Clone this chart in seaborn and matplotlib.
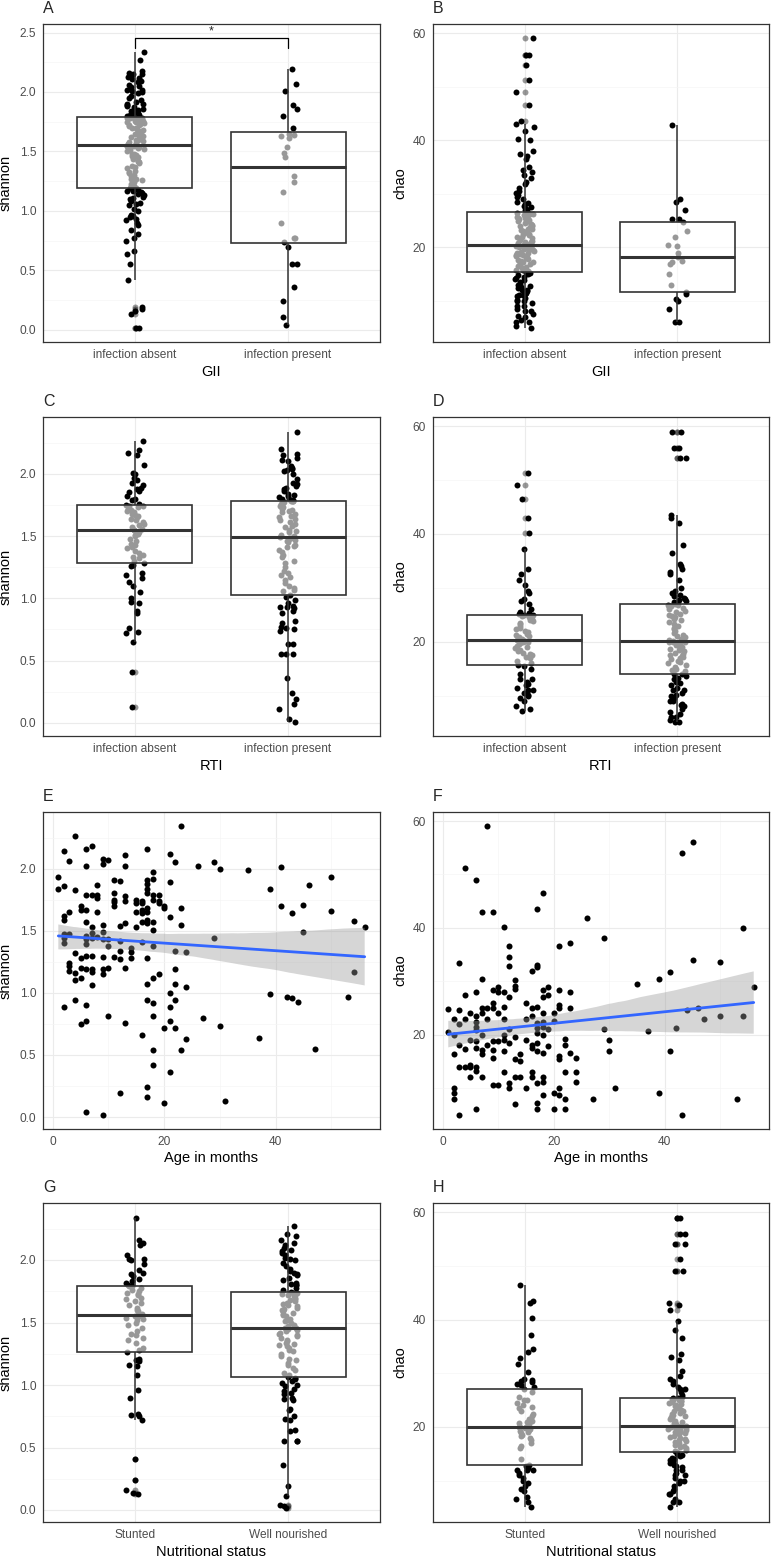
import numpy as np
import pandas as pd
import matplotlib
matplotlib.use("Agg")
import matplotlib.pyplot as plt
from matplotlib.ticker import MultipleLocator
import seaborn as sns

sns.set_style("white")
plt.rcParams["font.family"] = ["Liberation Sans", "DejaVu Sans"]

# ---------------- data ----------------
gii_levels = ["infection absent", "infection present"]
rti_levels = ["infection absent", "infection present"]
nut_levels = ["Stunted", "Well nourished"]

# A: shannon by GII
shannon_gii_absent = [
    0.02, 0.02, 0.13, 0.16, 0.18, 0.19, 0.42, 0.55, 0.64, 0.66,
    0.75, 0.77, 0.81, 0.84, 0.88, 0.90, 0.92, 0.93, 0.95, 0.96,
    0.97, 1.00, 1.02, 1.05, 1.06, 1.07, 1.08, 1.10, 1.11, 1.12,
    1.13, 1.14, 1.15, 1.16, 1.17, 1.17, 1.18, 1.19, 1.19,
    1.195,
    1.20, 1.21, 1.21, 1.23, 1.24, 1.26, 1.27, 1.27, 1.29, 1.30,
    1.32, 1.33, 1.34, 1.36, 1.37, 1.38, 1.40, 1.41, 1.42, 1.42,
    1.44, 1.45, 1.46, 1.47, 1.48, 1.48, 1.50, 1.51, 1.52, 1.53,
    1.53, 1.54, 1.54, 1.55, 1.55, 1.55, 1.55, 1.55,
    1.551,
    1.56, 1.56, 1.57, 1.58, 1.59, 1.60, 1.60, 1.61, 1.62, 1.63,
    1.64, 1.64, 1.65, 1.66, 1.67, 1.67, 1.68, 1.69, 1.70, 1.70,
    1.71, 1.72, 1.72, 1.73, 1.74, 1.74, 1.75, 1.75, 1.76, 1.76,
    1.77, 1.77, 1.78, 1.78, 1.78, 1.78, 1.785, 1.785,
    1.789,
    1.80, 1.80, 1.81, 1.81, 1.82, 1.83, 1.84, 1.85, 1.86, 1.87,
    1.88, 1.89, 1.90, 1.90, 1.92, 1.93, 1.95, 1.97, 1.99, 2.00,
    2.01, 2.02, 2.02, 2.04, 2.05, 2.06, 2.08, 2.09, 2.10, 2.11,
    2.12, 2.13, 2.14, 2.15, 2.15, 2.16, 2.18, 2.27, 2.34,
]
shannon_gii_present = [
    0.04, 0.11, 0.24, 0.36, 0.55, 0.55, 0.70, 0.74, 0.77, 0.77,
    0.90, 1.16, 1.24, 1.29, 1.45, 1.49, 1.54, 1.61, 1.63, 1.64,
    1.65, 1.70, 1.80, 1.86, 1.89, 2.01, 2.07, 2.19,
]

# B: chao by GII
chao_gii_absent = [
    5.0, 5.2, 6.0, 6.0, 6.5, 7.0, 7.2, 7.5, 8.0, 8.0,
    8.5, 9.0, 9.0, 9.5, 10.0, 10.0, 10.2, 10.5, 10.8, 11.0,
    11.0, 11.2, 11.5, 11.8, 12.0, 12.0, 12.3, 12.5, 12.8, 13.0,
    13.2, 13.5, 13.8, 14.0, 14.3, 14.5, 14.8, 15.0, 15.2,
    15.4,
    15.5, 15.7, 15.8, 16.0, 16.2, 16.3, 16.5, 16.7, 16.8, 17.0,
    17.2, 17.3, 17.5, 17.7, 17.8, 18.0, 18.2, 18.3, 18.5, 18.6,
    18.8, 19.0, 19.0, 19.2, 19.3, 19.5, 19.6, 19.7, 19.8, 20.0,
    20.0, 20.1, 20.2, 20.3, 20.3, 20.4, 20.4, 20.5,
    20.5,
    20.6, 20.8, 21.0, 21.0, 21.2, 21.4, 21.5, 21.7, 21.9, 22.0,
    22.2, 22.4, 22.5, 22.7, 22.9, 23.0, 23.2, 23.4, 23.5, 23.7,
    23.9, 24.0, 24.2, 24.4, 24.5, 24.7, 24.9, 25.0, 25.2, 25.4,
    25.5, 25.7, 25.8, 26.0, 26.1, 26.2, 26.3, 26.4,
    26.5,
    26.7, 26.9, 27.0, 27.2, 27.5, 27.7, 28.0, 28.2, 28.5, 29.0,
    29.3, 29.7, 30.2, 30.5, 31.0, 31.8, 32.2, 33.0, 33.5, 34.0,
    34.5, 35.0, 36.5, 37.0, 37.5, 38.0, 40.0, 40.2, 41.8, 42.5,
    43.0, 43.5, 46.5, 49.0, 51.3, 54.0, 56.0, 56.0, 59.0,
]
chao_gii_present = [
    6.0, 6.0, 8.5, 9.9, 10.4, 11.2, 11.7, 12.9, 15.0, 16.9,
    17.2, 17.4, 18.2, 19.0, 20.2, 20.5, 22.0, 23.0, 24.7, 25.2,
    25.2, 27.0, 28.5, 29.0, 42.9,
]

# C: shannon by RTI
shannon_rti_absent = [
    0.13, 0.41, 0.65, 0.72, 0.73, 0.76, 0.88, 0.90, 0.96, 0.97,
    1.00, 1.05, 1.10, 1.13, 1.16, 1.19, 1.20, 1.26, 1.27,
    1.282,
    1.30, 1.32, 1.33, 1.35, 1.36, 1.38, 1.40, 1.41, 1.43, 1.44,
    1.46, 1.48, 1.50, 1.51, 1.52, 1.53, 1.54, 1.545,
    1.549,
    1.56, 1.57, 1.59, 1.60, 1.61, 1.63, 1.64, 1.65, 1.66, 1.67,
    1.68, 1.69, 1.70, 1.71, 1.72, 1.73, 1.74, 1.745,
    1.746,
    1.76, 1.79, 1.80, 1.82, 1.85, 1.86, 1.88, 1.89, 1.91, 1.93,
    1.95, 1.97, 2.00, 2.01, 2.07, 2.15, 2.17, 2.19, 2.26,
]
shannon_rti_present = [
    0.01, 0.03, 0.11, 0.15, 0.19, 0.24, 0.36, 0.55, 0.55, 0.55,
    0.63, 0.63, 0.74, 0.75, 0.76, 0.77, 0.80, 0.82, 0.88, 0.90,
    0.92, 0.93, 0.93, 0.94, 0.96, 0.99, 1.01,
    1.023,
    1.06, 1.07, 1.08, 1.10, 1.12, 1.15, 1.17, 1.19, 1.20, 1.22,
    1.25, 1.28, 1.30, 1.33, 1.35, 1.37, 1.39, 1.41, 1.42, 1.43,
    1.45, 1.46, 1.47, 1.48, 1.485, 1.488,
    1.490,
    1.50, 1.51, 1.53, 1.54, 1.55, 1.57, 1.58, 1.60, 1.61, 1.63,
    1.64, 1.65, 1.66, 1.68, 1.69, 1.70, 1.71, 1.72, 1.73, 1.74,
    1.75, 1.76, 1.77, 1.78, 1.78, 1.783,
    1.784,
    1.79, 1.80, 1.80, 1.81, 1.82, 1.83, 1.84, 1.86, 1.88, 1.89,
    1.90, 1.92, 1.93, 1.96, 2.00, 2.02, 2.03, 2.04, 2.05, 2.06,
    2.10, 2.11, 2.13, 2.15, 2.16, 2.20, 2.34,
]

# D: chao by RTI
chao_rti_absent = [
    7.1, 7.5, 8.0, 9.0, 9.5, 10.0, 10.2, 10.5, 11.0, 11.0,
    11.5, 12.0, 12.2, 12.5, 13.0, 13.0, 14.0, 15.0, 15.5,
    15.6,
    16.0, 16.5, 17.0, 17.2, 17.5, 17.8, 18.0, 18.3, 18.5, 18.8,
    19.0, 19.2, 19.5, 19.7, 19.9, 20.0, 20.1, 20.2,
    20.3,
    20.5, 20.8, 21.0, 21.3, 21.5, 21.8, 22.0, 22.3, 22.6, 23.0,
    23.2, 23.5, 23.8, 24.0, 24.3, 24.5, 24.7, 24.9,
    25.0,
    25.2, 25.3, 25.6, 26.0, 27.0, 27.5, 28.0, 29.0, 29.5, 30.5,
    31.5, 32.5, 33.5, 37.2, 40.2, 43.0, 46.5, 49.0, 51.3,
]
chao_rti_present = [
    5.2, 5.2, 5.5, 6.0, 6.0, 6.5, 7.0, 7.5, 8.0, 8.2,
    8.5, 9.0, 9.0, 9.5, 10.0, 10.2, 10.5, 11.0, 11.0, 11.5,
    12.0, 12.3, 12.5, 13.0, 13.3, 13.6, 14.0,
    14.1,
    14.5, 14.8, 15.0, 15.3, 15.6, 16.0, 16.2, 16.5, 16.8, 17.0,
    17.2, 17.4, 17.6, 17.8, 18.0, 18.3, 18.5, 18.7, 19.0, 19.2,
    19.4, 19.6, 19.8, 19.9, 20.0, 20.0,
    20.1,
    20.3, 20.5, 20.8, 21.0, 21.3, 21.6, 22.0, 22.3, 22.6, 23.0,
    23.3, 23.6, 24.0, 24.2, 24.5, 24.8, 25.0, 25.2, 25.5, 25.7,
    26.0, 26.2, 26.4, 26.6, 26.8, 26.9,
    27.0,
    27.3, 27.6, 27.8, 28.0, 28.2, 28.5, 28.7, 29.0, 29.5, 30.0,
    31.5, 32.5, 33.0, 33.5, 34.0, 34.5, 36.5, 38.0, 42.0, 43.0,
    43.5, 54.0, 54.0, 56.0, 56.0, 59.0, 59.0,
]

# E: shannon vs age (months)
age_e = [
    1, 1,
    2, 2, 2, 2, 2, 2, 2, 2,
    3, 3, 3, 3, 3, 3,
    4, 4, 4, 4, 4, 4,
    5, 5, 5, 5, 5, 5,
    6, 6, 6, 6, 6, 6, 6, 6, 6, 6, 6, 6, 6,
    7, 7, 7, 7, 7, 7, 7, 7, 7,
    8, 8, 8, 8, 8,
    9, 9, 9, 9, 9, 9, 9, 9, 9,
    10, 10, 10, 10, 10,
    11, 11, 11, 11, 11, 11,
    12, 12, 12, 12, 12, 12,
    13, 13, 13, 13, 13, 13, 13,
    14, 14, 14,
    15, 15, 15, 15,
    16, 16, 16, 16, 16, 16, 16,
    17, 17, 17, 17, 17, 17, 17, 17, 17, 17, 17, 17, 17, 17,
    18, 18, 18, 18, 18, 18, 18, 18, 18, 18, 18, 18,
    19, 19, 19, 19,
    20, 20, 20, 20,
    21, 21, 21, 21, 21, 21, 21,
    22, 22, 22, 22, 22, 22,
    23, 23, 23, 23,
    24, 24, 24,
    26, 27, 29, 29, 30, 30, 31, 35, 37, 39, 39, 41, 41, 42,
    43, 43, 44, 45, 45, 46, 47, 50, 50, 53, 54, 54, 56,
]
shannon_e = [
    1.93, 1.84,
    2.14, 1.86, 1.62, 1.59, 1.47, 1.44, 1.40, 0.885,
    2.06, 1.65, 1.47, 1.24, 1.22, 1.18,
    2.26, 1.83, 1.32, 1.16, 1.10, 0.94,
    1.70, 1.67, 1.28, 1.20, 1.12, 0.75,
    2.16, 2.02, 1.79, 1.67, 1.57, 1.46, 1.43, 1.39, 1.30, 1.19, 0.90, 0.77, 0.04,
    2.18, 1.79, 1.53, 1.48, 1.44, 1.30, 1.19, 1.17, 1.06,
    1.87, 1.79, 1.76, 1.65, 1.45,
    2.08, 2.04, 1.55, 1.49, 1.43, 1.29, 1.19, 1.15, 0.02,
    2.07, 1.43, 1.38, 1.20, 0.81,
    1.91, 1.80, 1.75, 1.73, 1.70, 1.29,
    1.90, 1.54, 1.42, 1.34, 1.27, 0.19,
    2.11, 2.02, 1.78, 1.74, 1.56, 1.20, 0.76,
    1.36, 1.33, 1.28,
    1.75, 1.72, 1.65, 1.53,
    1.74, 1.72, 1.67, 1.64, 1.57, 1.41, 0.66,
    2.16, 1.91, 1.88, 1.84, 1.80, 1.68, 1.65, 1.59, 1.56, 1.28, 1.07, 0.94, 0.24, 0.16,
    1.97, 1.92, 1.79, 1.75, 1.57, 1.51, 1.38, 1.12, 0.92, 0.81, 0.54, 0.42,
    1.79, 1.74, 1.72, 1.15,
    1.70, 1.68, 0.72, 0.11,
    2.12, 1.89, 1.61, 1.00, 0.89, 0.77, 0.36,
    2.05, 1.34, 1.19, 1.07, 0.94, 0.72,
    2.34, 1.68, 1.55, 0.54,
    1.33, 1.05, 0.63,
    2.02, 0.80, 2.05, 1.44, 2.00, 0.73, 0.13, 1.99, 0.64, 1.84, 0.99, 2.01, 1.70, 0.97,
    1.64, 0.96, 0.93, 1.71, 1.49, 1.87, 0.55, 1.93, 1.66, 0.97, 1.58, 1.17, 1.53,
]

# F: chao vs age (months)
age_f = [
    1, 1,
    2, 2, 2, 2, 2, 2,
    3, 3, 3, 3, 3, 3,
    4, 4, 4, 4, 4,
    5, 5, 5, 5, 5,
    6, 6, 6, 6, 6, 6, 6, 6, 6, 6, 6,
    7, 7, 7, 7, 7, 7, 7, 7,
    8, 8, 8, 8,
    9, 9, 9, 9, 9, 9, 9, 9,
    10, 10, 10, 10, 10,
    11, 11, 11, 11, 11, 11, 11, 11,
    12, 12, 12, 12, 12, 12, 12, 12,
    13, 13, 13, 13, 13, 13, 13,
    14, 14, 14,
    15, 15, 15, 15,
    16, 16, 16, 16, 16, 16, 16,
    17, 17, 17, 17, 17, 17, 17, 17, 17, 17, 17, 17,
    18, 18, 18, 18, 18, 18, 18, 18, 18, 18, 18,
    19, 19, 19, 19,
    20, 20, 20, 20,
    21, 21, 21, 21, 21, 21, 21, 21,
    22, 22, 22, 22, 22,
    23, 23, 23, 23,
    24, 24, 24,
    26, 27, 29, 29, 30, 30, 31, 35, 37, 39, 39, 41, 41, 42,
    43, 43, 44, 45, 45, 46, 47, 50, 50, 53, 54, 54, 56,
]
chao_f = [
    24.7, 20.5,
    23.0, 19.9, 16.4, 10.0, 9.1, 8.0,
    33.4, 24.6, 22.0, 18.0, 14.0, 5.0,
    51.3, 27.4, 23.0, 17.3, 14.0,
    24.0, 19.0, 14.3, 13.9, 12.0,
    49.0, 28.0, 23.4, 22.4, 21.5, 20.9, 18.7, 17.5, 14.0, 13.1, 6.0,
    42.9, 30.5, 25.0, 24.0, 19.9, 17.1, 16.4, 12.0,
    59.0, 25.0, 23.0, 18.0,
    43.0, 28.4, 26.0, 25.0, 18.7, 17.1, 15.6, 10.5,
    28.9, 27.9, 24.0, 18.7, 10.5,
    40.2, 28.0, 25.2, 23.0, 19.9, 19.0, 17.0, 13.0,
    36.5, 34.5, 32.8, 27.0, 21.0, 18.5, 10.9, 10.0,
    30.3, 29.1, 28.6, 19.5, 15.4, 12.0, 7.0,
    16.4, 15.0, 12.0,
    26.0, 23.0, 19.0, 10.0,
    32.0, 25.0, 23.4, 18.0, 17.5, 13.0, 12.0,
    43.5, 33.0, 32.7, 25.2, 22.1, 21.2, 20.2, 18.4, 17.0, 10.9, 7.1, 6.0,
    46.5, 28.3, 27.1, 24.0, 22.4, 21.5, 19.9, 16.5, 12.0, 11.2, 8.6,
    28.9, 27.4, 21.0, 17.8,
    24.0, 22.6, 9.1, 6.0,
    36.5, 28.4, 25.5, 25.0, 16.0, 15.4, 10.0, 8.6,
    19.2, 18.1, 13.0, 8.0, 6.0,
    37.2, 28.0, 25.0, 16.5,
    15.6, 13.0, 11.1,
    41.8, 8.0, 38.0, 21.0, 19.0, 17.0, 10.0, 29.4, 20.6, 30.4, 9.1, 31.7, 17.0, 21.2,
    54.0, 5.0, 24.6, 56.0, 34.0, 25.0, 23.0, 33.5, 23.5, 8.0, 40.0, 23.5, 28.9,
]

# G: shannon by nutritional status
shannon_stunted = [
    0.13, 0.14, 0.16, 0.24, 0.41, 0.72, 0.75, 0.76, 0.77, 0.90,
    0.96, 1.08, 1.15, 1.16, 1.19, 1.20, 1.21,
    1.266,
    1.28, 1.30, 1.34, 1.36, 1.38, 1.40, 1.41, 1.43, 1.46, 1.48,
    1.50, 1.52, 1.53, 1.54, 1.55, 1.555,
    1.559,
    1.57, 1.59, 1.60, 1.62, 1.64, 1.66, 1.67, 1.69, 1.70, 1.72,
    1.73, 1.74, 1.75, 1.76, 1.78, 1.79,
    1.792,
    1.80, 1.82, 1.83, 1.85, 1.87, 1.89, 1.90, 1.92, 1.97, 2.00,
    2.01, 2.01, 2.04, 2.12, 2.14, 2.16, 2.34,
]
shannon_well = [
    0.02, 0.03, 0.04, 0.11, 0.19, 0.36, 0.55, 0.55, 0.55, 0.63,
    0.64, 0.72, 0.73, 0.75, 0.80, 0.81, 0.88, 0.89, 0.90, 0.93,
    0.94, 0.95, 0.97, 0.99, 1.00, 1.02, 1.03, 1.05, 1.06,
    1.065,
    1.08, 1.10, 1.12, 1.14, 1.16, 1.18, 1.20, 1.21, 1.23, 1.25,
    1.27, 1.28, 1.30, 1.31, 1.32, 1.33, 1.34, 1.35, 1.36, 1.38,
    1.39, 1.40, 1.41, 1.42, 1.43, 1.44, 1.45, 1.455,
    1.458,
    1.47, 1.48, 1.50, 1.51, 1.52, 1.53, 1.55, 1.56, 1.57, 1.58,
    1.59, 1.60, 1.61, 1.62, 1.63, 1.64, 1.65, 1.66, 1.67, 1.68,
    1.69, 1.70, 1.71, 1.72, 1.72, 1.73, 1.735, 1.74,
    1.741,
    1.76, 1.78, 1.80, 1.80, 1.81, 1.82, 1.84, 1.86, 1.88, 1.89,
    1.90, 1.91, 1.93, 1.95, 1.98, 2.00, 2.01, 2.02, 2.04, 2.06,
    2.07, 2.08, 2.10, 2.12, 2.14, 2.16, 2.19, 2.21, 2.27,
]

# H: chao by nutritional status
chao_stunted = [
    5.0, 6.0, 6.5, 7.0, 8.0, 8.5, 9.0, 9.5, 10.0, 10.5,
    11.0, 11.5, 12.0, 12.0, 12.0, 12.3, 12.7,
    13.0,
    14.0, 16.0, 16.5, 17.0, 17.5, 18.0, 18.3, 18.5, 18.8, 19.0,
    19.3, 19.5, 19.7, 19.8, 19.9, 20.0,
    20.0,
    20.5, 20.8, 21.0, 21.2, 21.5, 22.0, 22.5, 23.0, 23.5, 23.8,
    24.0, 24.5, 25.0, 25.0, 25.5, 26.5,
    27.0,
    27.5, 27.8, 28.0, 28.3, 28.6, 28.8, 29.0, 30.3, 31.7, 32.8,
    34.0, 34.5, 37.2, 40.2, 43.0, 43.5, 46.5,
]
chao_well = [
    5.0, 6.0, 6.0, 6.5, 7.5, 7.5, 8.0, 8.5, 9.0, 9.5,
    10.0, 10.0, 10.5, 11.0, 11.0, 11.5, 12.0, 12.0, 12.5, 12.8,
    13.0, 13.2, 13.5, 13.8, 14.0, 14.3, 14.5, 14.8, 15.0,
    15.27,
    15.5, 15.8, 16.0, 16.2, 16.5, 16.7, 17.0, 17.2, 17.4, 17.6,
    17.8, 18.0, 18.2, 18.4, 18.6, 18.8, 19.0, 19.1, 19.3, 19.4,
    19.5, 19.6, 19.7, 19.8, 19.9, 20.0, 20.1, 20.2,
    20.25,
    20.4, 20.5, 20.8, 21.0, 21.1, 21.4, 21.7, 21.8, 22.0, 22.3,
    22.5, 22.6, 22.9, 23.0, 23.1, 23.5, 23.6, 23.9, 24.0, 24.2,
    24.5, 24.6, 24.8, 24.9, 25.0, 25.1, 25.2, 25.3,
    25.35,
    25.6, 26.0, 26.5, 27.0, 27.0, 27.5, 28.0, 28.5, 29.0, 29.5,
    30.5, 32.5, 33.0, 33.5, 36.5, 38.0, 39.8, 41.8, 42.8, 43.0,
    49.0, 49.0, 51.3, 54.0, 54.0, 56.0, 56.0, 59.0, 59.0,
]

# significance bracket between the GII groups in panel A
sig_y = 2.45
sig_label = "*"

# ---------------- layout ----------------
W, H = 776, 1556
fig = plt.figure(figsize=(W / 100, H / 100), dpi=100)
fig.patch.set_facecolor("white")

col_left = [43, 433]
col_width = [337, 336]
row_top = [24, 417, 812, 1203]
row_bottom = [342, 736, 1129, 1522]

np.random.seed(3)


def make_ax(r, c):
    return fig.add_axes([col_left[c] / W, 1 - row_bottom[r] / H,
                         col_width[c] / W, (row_bottom[r] - row_top[r]) / H])


def pad_lim(lo, hi, f=0.05):
    span = hi - lo
    return lo - f * span, hi + f * span


def box_panel(ax, levels, groups):
    df = pd.DataFrame({
        "group": np.repeat(levels, [len(g) for g in groups]),
        "value": np.concatenate(groups),
    })
    sns.stripplot(data=df, x="group", y="value", order=levels, jitter=0.06,
                  color="black", size=4.3, linewidth=0, ax=ax)
    n_lines = len(ax.lines)
    sns.boxplot(data=df, x="group", y="value", order=levels, width=0.75,
                color="white", linecolor="#333333", linewidth=1.2,
                showcaps=False,
                boxprops=dict(facecolor=(1, 1, 1, 0.6)),
                medianprops=dict(linewidth=2.2),
                whiskerprops=dict(linewidth=1.1),
                flierprops=dict(marker="o", markersize=4.3,
                                markerfacecolor=(0, 0, 0, 0.4),
                                markeredgewidth=0),
                ax=ax)
    # semi-transparent white boxes sit on top of the jittered points
    for p in ax.patches:
        p.set_facecolor((1, 1, 1, 0.6))
        p.set_zorder(3)
    for ln in ax.lines[n_lines:]:
        ln.set_zorder(3.5)
    ax.set_xlim(-0.6, 1.6)
    ax.set_ylim(*pad_lim(df["value"].min(), df["value"].max()))
    return df


def scatter_panel(ax, x, y):
    sns.scatterplot(x=x, y=y, color="black", s=19, linewidth=0, ax=ax)
    sns.regplot(x=np.array(x, dtype=float), y=np.array(y, dtype=float),
                scatter=False, ci=95, seed=7, ax=ax,
                line_kws=dict(color="#3366FF", linewidth=2.0))
    band = ax.collections[-1]
    band.set_alpha(0.4)
    band.set_facecolor("#999999")
    band.set_edgecolor("none")
    ax.lines[-1].set_zorder(4)
    ax.set_xlim(*pad_lim(min(x), max(x)))
    ax.set_ylim(*pad_lim(min(y), max(y)))


def finish(ax, r, c, tag, xlabel, ylabel, ystep, xstep=None):
    ax.set_xlabel(xlabel, fontsize=10.5, color="black")
    ax.set_ylabel(ylabel, fontsize=10.5, color="black")
    ax.yaxis.set_major_locator(MultipleLocator(ystep))
    ax.yaxis.set_minor_locator(MultipleLocator(ystep / 2))
    if xstep:
        ax.xaxis.set_major_locator(MultipleLocator(xstep))
        ax.xaxis.set_minor_locator(MultipleLocator(xstep / 2))
    ax.grid(True, which="major", color="#ebebeb", linewidth=0.8)
    ax.grid(True, which="minor", color="#f5f5f5", linewidth=0.5)
    ax.set_axisbelow(True)
    ax.tick_params(which="major", length=3, width=0.8, color="#333333",
                   labelsize=8.6, labelcolor="#4d4d4d", pad=2)
    ax.tick_params(which="minor", length=0)
    for sp in ax.spines.values():
        sp.set_visible(True)
        sp.set_color("#333333")
        sp.set_linewidth(0.9)
    ax.yaxis.set_label_coords(-0.089 if c == 0 else -0.077, 0.5)
    ax.xaxis.set_label_coords(0.5, -0.068 if xstep else -0.072)
    fig.text(col_left[c] / W, 1 - (row_top[r] - 11) / H, tag,
             fontsize=11.5, ha="left", va="baseline")


# A
ax = make_ax(0, 0)
box_panel(ax, gii_levels, [shannon_gii_absent, shannon_gii_present])
ax.set_ylim(*pad_lim(min(shannon_gii_absent + shannon_gii_present), sig_y))
tip = 0.03 * (ax.get_ylim()[1] - ax.get_ylim()[0])
ax.plot([0, 0, 1, 1], [sig_y - tip, sig_y, sig_y, sig_y - tip],
        color="black", linewidth=0.9, zorder=5)
ax.text(0.5, sig_y + 0.01, sig_label, ha="center", va="bottom", fontsize=9)
finish(ax, 0, 0, "A", "GII", "shannon", 0.5)

# B
ax = make_ax(0, 1)
box_panel(ax, gii_levels, [chao_gii_absent, chao_gii_present])
finish(ax, 0, 1, "B", "GII", "chao", 20)

# C
ax = make_ax(1, 0)
box_panel(ax, rti_levels, [shannon_rti_absent, shannon_rti_present])
finish(ax, 1, 0, "C", "RTI", "shannon", 0.5)

# D
ax = make_ax(1, 1)
box_panel(ax, rti_levels, [chao_rti_absent, chao_rti_present])
finish(ax, 1, 1, "D", "RTI", "chao", 20)

# E
ax = make_ax(2, 0)
scatter_panel(ax, age_e, shannon_e)
finish(ax, 2, 0, "E", "Age in months", "shannon", 0.5, 20)

# F
ax = make_ax(2, 1)
scatter_panel(ax, age_f, chao_f)
finish(ax, 2, 1, "F", "Age in months", "chao", 20, 20)

# G
ax = make_ax(3, 0)
box_panel(ax, nut_levels, [shannon_stunted, shannon_well])
finish(ax, 3, 0, "G", "Nutritional status", "shannon", 0.5)

# H
ax = make_ax(3, 1)
box_panel(ax, nut_levels, [chao_stunted, chao_well])
finish(ax, 3, 1, "H", "Nutritional status", "chao", 20)

fig.savefig("out.png", dpi=100, facecolor="white")
